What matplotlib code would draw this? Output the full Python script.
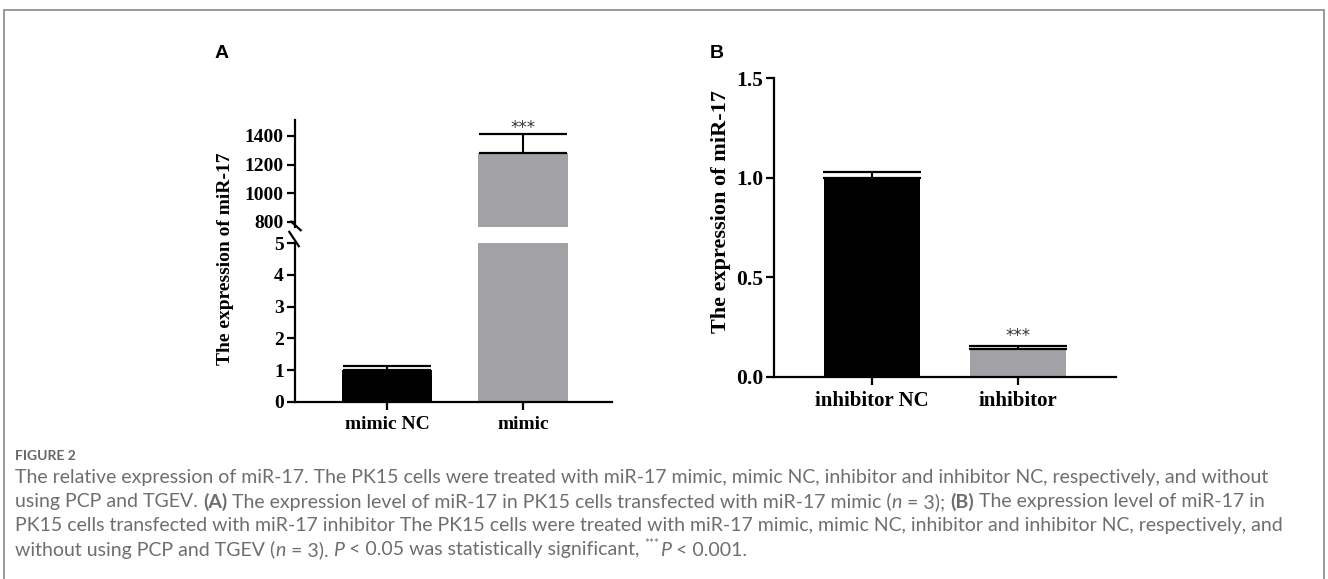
import matplotlib.pyplot as plt
from matplotlib.patches import Rectangle

# panel A: mimic
a_names = ['mimic NC', 'mimic']
a_vals = [1.0, 1280]
a_err = [0.12, 130]
a_colors = ['#000000', '#a2a1a6']

# panel B: inhibitor
b_names = ['inhibitor NC', 'inhibitor']
b_vals = [1.0, 0.14]
b_err = [0.027, 0.015]
b_colors = ['#000000', '#a2a1a6']

# caption, as runs of (text, style): r normal, b bold, i italic, s superscript
caption = [
    [("The relative expression of miR-17. The PK15 cells were treated with miR-17 mimic, "
      "mimic NC, inhibitor and inhibitor NC, respectively, and without", 'r')],
    [("using PCP and TGEV.", 'r'), (" (A)", 'b'),
     (" The expression level of miR-17 in PK15 cells transfected with miR-17 mimic (", 'r'),
     ("n", 'i'), (" = 3);", 'r'), (" (B)", 'b'),
     (" The expression level of miR-17 in", 'r')],
    [("PK15 cells transfected with miR-17 inhibitor The PK15 cells were treated with miR-17 "
      "mimic, mimic NC, inhibitor and inhibitor NC, respectively, and", 'r')],
    [("without using PCP and TGEV (", 'r'), ("n", 'i'), (" = 3).", 'r'), (" P", 'i'),
     (" < 0.05 was statistically significant,", 'r'), (" ***", 's'), ("P", 'i'),
     (" < 0.001.", 'r')],
]

W, H = 1328, 579
fig = plt.figure(figsize=(W / 100, H / 100), dpi=100)
serif = 'Liberation Serif'


def box(x0, y0, x1, y1):
    # pixel box -> figure fraction rect
    return [x0 / W, 1 - y1 / H, (x1 - x0) / W, (y1 - y0) / H]


def style(ax, fs):
    for s in ['top', 'right']:
        ax.spines[s].set_visible(False)
    for s in ['left', 'bottom']:
        ax.spines[s].set_linewidth(1.6)
    ax.tick_params(width=1.6, length=6, labelsize=fs, pad=2)
    ax.tick_params(axis='x', pad=4)
    for lab in ax.get_yticklabels() + ax.get_xticklabels():
        lab.set_fontfamily(serif)
        lab.set_fontweight('bold')


# ---- panel A, broken axis ----
axl = fig.add_axes(box(295, 243, 612, 402))
axu = fig.add_axes(box(295, 120, 612, 227))
xa = [0, 1]
for ax in (axl, axu):
    ax.bar(xa, a_vals, width=0.66, color=a_colors, zorder=2)
    ax.set_xlim(-0.676, 1.654)
axl.errorbar(xa[0], a_vals[0], yerr=[[0], [a_err[0]]], fmt='none', ecolor='black',
             elinewidth=1.5, capsize=32, capthick=1.6, zorder=3)
axu.errorbar(xa[1], a_vals[1], yerr=[[0], [a_err[1]]], fmt='none', ecolor='black',
             elinewidth=1.5, capsize=32, capthick=1.6, zorder=3)
axl.set_ylim(0, 5)
axu.set_ylim(765, 1510)
axl.set_yticks(range(0, 6))
axu.set_yticks([800, 1000, 1200, 1400])
axl.set_xticks(xa)
axl.set_xticklabels(a_names)
style(axl, 14)
style(axu, 14)
axu.spines['bottom'].set_visible(False)
axu.set_xticks([])
for lab in axl.get_xticklabels():
    lab.set_fontsize(14)
# break marks
axu.plot([-0.012, 0.018], [0.05, -0.03], transform=axu.transAxes, color='black',
         lw=1.6, clip_on=False)
axl.plot([-0.018, 0.012], [1.07, 0.98], transform=axl.transAxes, color='black',
         lw=1.6, clip_on=False)
axu.text(xa[1], a_vals[1] + a_err[1] - 20, '***', ha='center', va='bottom',
         fontsize=12, color='#333333')
fig.text(225 / W, 1 - 259 / H, 'The expression of miR-17', rotation=90,
         ha='center', va='center', fontsize=14, fontweight='bold', family=serif)
fig.text(222 / W, 1 - 53 / H, 'A', ha='center', va='center', fontsize=14,
         fontweight='bold', family='Liberation Sans')

# ---- panel B ----
axb = fig.add_axes(box(774, 78, 1116, 377))
xb = [0, 1]
axb.bar(xb, b_vals, width=0.664, color=b_colors, zorder=2)
axb.errorbar(xb, b_vals, yerr=[[0, 0], b_err], fmt='none', ecolor='black',
             elinewidth=1.5, capsize=35, capthick=1.6, zorder=3)
axb.set_xlim(-0.671, 1.671)
axb.set_ylim(0, 1.5)
axb.set_yticks([0.0, 0.5, 1.0, 1.5])
axb.set_yticklabels(['0.0', '0.5', '1.0', '1.5'])
axb.set_xticks(xb)
axb.set_xticklabels(b_names)
style(axb, 15.5)
for lab in axb.get_xticklabels():
    lab.set_fontsize(15)
axb.text(xb[1], b_vals[1] + b_err[1] + 0.005, '***', ha='center', va='bottom',
         fontsize=12, color='#333333')
fig.text(721 / W, 1 - 212 / H, 'The expression of miR-17', rotation=90,
         ha='center', va='center', fontsize=16, fontweight='bold', family=serif)
fig.text(717 / W, 1 - 53 / H, 'B', ha='center', va='center', fontsize=14,
         fontweight='bold', family='Liberation Sans')

# ---- caption and frame ----
fig.text(15 / W, 1 - 456 / H, 'FIGURE 2', ha='left', va='center', fontsize=10,
         color='#666666', family='Lato', fontweight='bold')

renderer = fig.canvas.get_renderer()
cap_fs = 14
cap_col = '#6e6e6e'
kinds = {'r': {}, 'b': {'fontweight': 'bold'}, 'i': {'fontstyle': 'italic'},
         's': {'fontsize': cap_fs * 0.6}}


def width(t, **kw):
    tx = fig.text(0, 0, t, family='Lato', fontsize=kw.pop('fontsize', cap_fs), **kw)
    w = tx.get_window_extent(renderer).width
    tx.remove()
    return w


space_w = width('a a') - width('aa')
for i, line in enumerate(caption):
    x = 15.0
    y = 478 + 24 * i
    for text, kind in line:
        kw = dict(kinds[kind])
        if text.startswith(' '):
            x += space_w
            text = text[1:]
        fs = kw.pop('fontsize', cap_fs)
        dy = -6 if kind == 's' else 0
        fig.text(x / W, 1 - (y + dy) / H, text, ha='left', va='center', fontsize=fs,
                 color=cap_col, family='Lato', **kw)
        x += width(text, fontsize=fs, **kw)

fig.add_artist(Rectangle((4 / W, -0.01), 1320 / W, 1 - 10 / H + 0.01,
                         transform=fig.transFigure, fill=False,
                         edgecolor='#888888', lw=1.2))

fig.savefig('out.png', dpi=100)
